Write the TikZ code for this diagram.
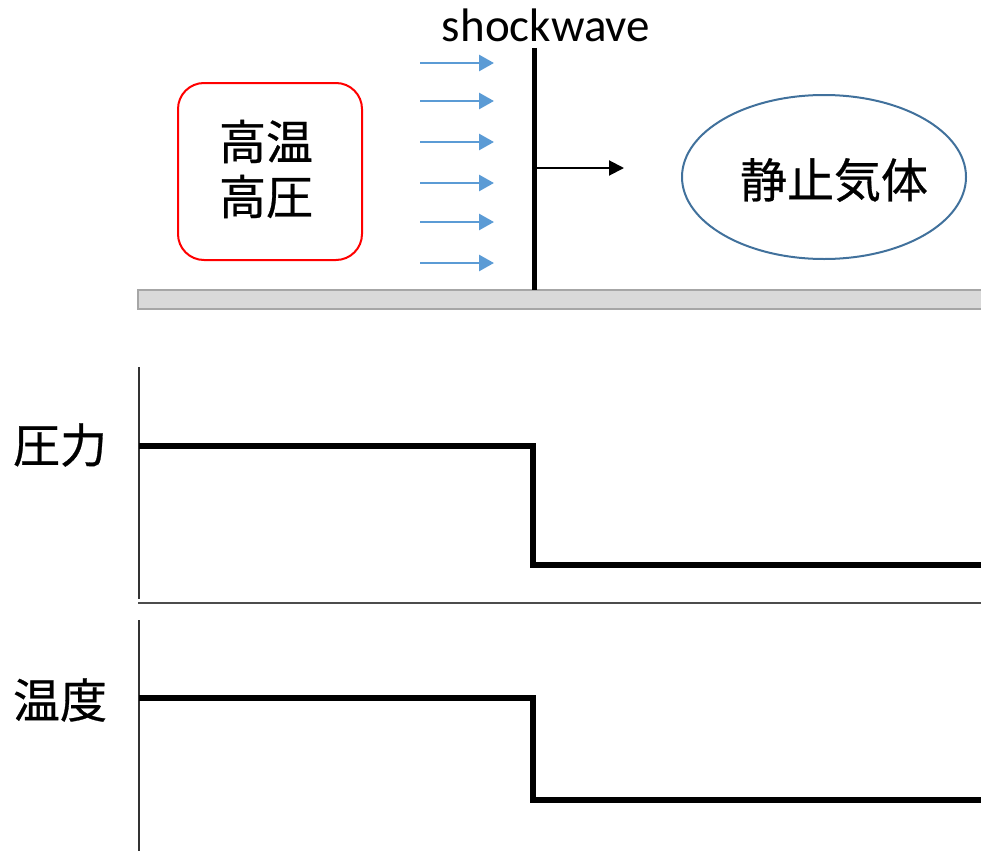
\documentclass[tikz,border=0pt]{standalone}
\usepackage{fontspec}
\setmainfont{Carlito}
\newfontfamily\jp[FakeBold=0.6]{Noto Sans CJK JP}
\usetikzlibrary{arrows.meta,shapes.geometric}
\definecolor{flowblue}{HTML}{5B9BD5}
\definecolor{ellblue}{HTML}{41719C}
\definecolor{barfill}{HTML}{D9D9D9}
\definecolor{barline}{HTML}{A6A6A6}
\tikzset{
  flow/.style={draw=flowblue, line width=2.8pt, -{Triangle[length=15pt,width=16pt]}},
  stepline/.style={draw=black, line width=5.5pt, line join=miter},
  axisline/.style={draw=black!80, line width=1.2pt},
  jplabel/.style={font=\jp\fontsize{47}{57}\selectfont, inner sep=0pt},
}
\begin{document}
\begin{tikzpicture}[x=1pt,y=-1pt]
\useasboundingbox (0,0) rectangle (981,851);
% ground bar
\draw[fill=barfill, draw=barline, line width=2pt] (138,290) rectangle (985,309);
% shockwave
\node[font=\fontsize{47}{52}\selectfont, inner sep=0pt] (sw) at (546,25) {shockwave};
\coordinate (swtop) at (534,48);
\coordinate (swbot) at (534,290);
\draw[line width=5pt] (swtop) -- (swbot);
\coordinate (mv0) at (536,168);
\coordinate (mv1) at (624,168);
\draw[line width=2pt, -{Triangle[length=15pt,width=15pt]}] (mv0) -- (mv1);
% flow arrows
\foreach \yy [count=\i] in {63,101,142,183,222,263}{
  \coordinate (fa\i) at (420,\yy);
  \coordinate (fb\i) at (494,\yy);
  \draw[flow] (fa\i) -- (fb\i);
}
% high temp high pressure box
\node[draw=red, line width=2pt, rounded corners=26pt, minimum width=184pt, minimum height=177pt, inner sep=0pt] (hot) at (270,171.5) {};
\node[jplabel, align=center] (hottxt) at (266,169) {高温\\[-2pt]高圧};
% still gas ellipse
\node[draw=ellblue, line width=2pt, ellipse, minimum width=284pt, minimum height=164pt, inner sep=0pt] (gas) at (824,177) {};
\node[jplabel] (gastxt) at (834,180) {静止気体};
% pressure graph
\coordinate (ax1t) at (139,367);
\coordinate (ax1b) at (139,599);
\draw[axisline] (ax1t) -- (ax1b);
\coordinate (h1a) at (138,603);
\coordinate (h1b) at (981,603);
\draw[draw=black!70, line width=1.5pt] (h1a) -- (h1b);
\coordinate (p0) at (139,446);
\coordinate (p1) at (533,446);
\coordinate (p2) at (533,565);
\coordinate (p3) at (985,565);
\draw[stepline] (p0) -- (p1) -- (p2) -- (p3);
\node[jplabel] (plabel) at (60,445) {圧力};
% temperature graph
\coordinate (ax2t) at (139,620);
\coordinate (ax2b) at (139,851);
\draw[axisline] (ax2t) -- (ax2b);
\coordinate (t0) at (139,698);
\coordinate (t1) at (533,698);
\coordinate (t2) at (533,800);
\coordinate (t3) at (985,800);
\draw[stepline] (t0) -- (t1) -- (t2) -- (t3);
\node[jplabel] (tlabel) at (60,700) {温度};
\end{tikzpicture}
\end{document}
